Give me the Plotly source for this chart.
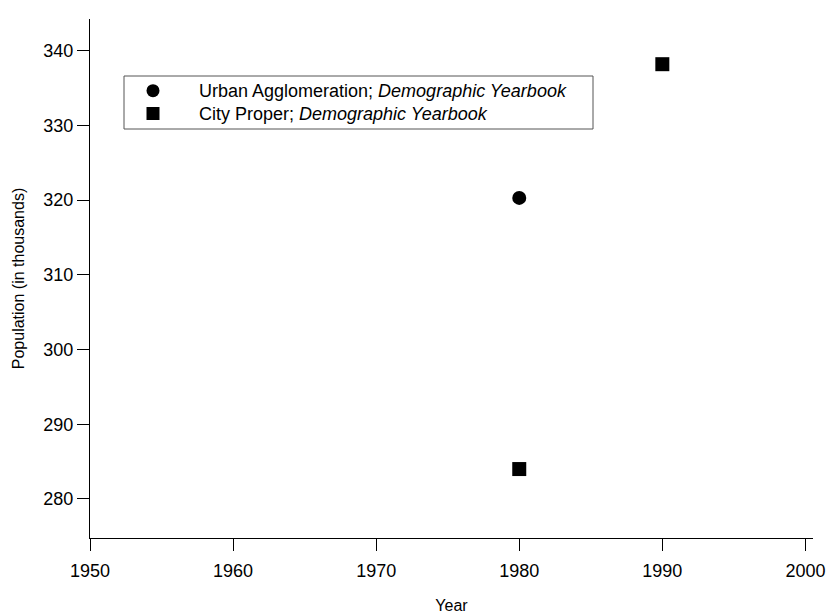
import plotly.graph_objects as go

# Data
urban_years = [1980]
urban_pop = [320.3]
city_years = [1980, 1990]
city_pop = [284.0, 338.2]

x_ticks = [1950, 1960, 1970, 1980, 1990, 2000]
y_ticks = [280, 290, 300, 310, 320, 330, 340]

legend_labels = [
    "Urban Agglomeration; <i>Demographic Yearbook</i>",
    "City Proper; <i>Demographic Yearbook</i>",
]

FONT = "Liberation Sans, Arial, Helvetica, sans-serif"

W, H = 829, 615
ML, MR, MT, MB = 90, 16, 19, 77
PW, PH = W - ML - MR, H - MT - MB


def px(xpix):
    return (xpix - ML) / PW


def py(ypix):
    return (H - MB - ypix) / PH


fig = go.Figure()
fig.add_trace(go.Scatter(
    x=urban_years, y=urban_pop, mode="markers", name=legend_labels[0],
    marker=dict(symbol="circle", size=14, color="black", line=dict(width=0)),
    showlegend=False,
))
fig.add_trace(go.Scatter(
    x=city_years, y=city_pop, mode="markers", name=legend_labels[1],
    marker=dict(symbol="square", size=14, color="black", line=dict(width=0)),
    showlegend=False,
))

# Manual legend box (decoration)
shapes = [
    dict(type="rect", xref="paper", yref="paper",
         x0=px(124), x1=px(593), y0=py(129), y1=py(76),
         line=dict(color="#555555", width=1), fillcolor="white", layer="below"),
    dict(type="circle", xref="paper", yref="paper",
         x0=px(153 - 6.5), x1=px(153 + 6.5), y0=py(90.7 + 6.5), y1=py(90.7 - 6.5),
         line=dict(width=0), fillcolor="black"),
    dict(type="rect", xref="paper", yref="paper",
         x0=px(153 - 6.5), x1=px(153 + 6.5), y0=py(113.5 + 6.5), y1=py(113.5 - 6.5),
         line=dict(width=0), fillcolor="black"),
]
annotations = [
    dict(xref="paper", yref="paper", x=px(197), y=py(yy), text=t,
         showarrow=False, xanchor="left", yanchor="middle",
         font=dict(family=FONT, size=18, color="black"))
    for t, yy in zip(legend_labels, [90.7, 113.5])
]

axis_common = dict(
    showline=True, linecolor="black", linewidth=1,
    ticks="outside", ticklen=12, tickwidth=1, tickcolor="black",
    showgrid=False, zeroline=False, automargin=False,
    tickfont=dict(family=FONT, size=18, color="black"),
    title_font=dict(family=FONT, size=16, color="black"),
)

fig.update_layout(
    template="none",
    width=W, height=H,
    margin=dict(l=ML, r=MR, t=MT, b=MB, pad=0),
    paper_bgcolor="white", plot_bgcolor="white",
    font=dict(family=FONT, size=18, color="black"),
    showlegend=False,
    shapes=shapes,
    annotations=annotations,
    xaxis=dict(
        range=[1950, 2000.53], tickvals=x_ticks,
        ticklabelstandoff=4,
        title=dict(text="Year", standoff=20),
        **axis_common,
    ),
    yaxis=dict(
        range=[274.77, 344.25], tickvals=y_ticks,
        title=dict(text="Population (in thousands)", standoff=14),
        **axis_common,
    ),
)

fig.write_html("out.html")
